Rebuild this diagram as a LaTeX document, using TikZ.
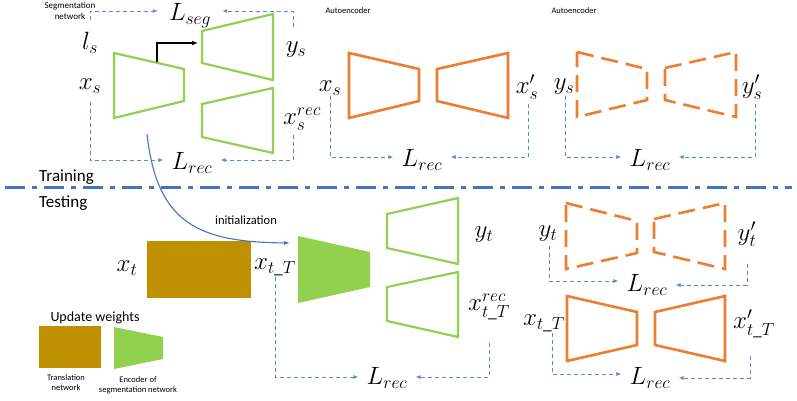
\RequirePackage{fix-cm}
\documentclass[tikz,border=0pt]{standalone}
\usepackage{fontspec}
\setmainfont{Carlito}
\usepackage{amsmath}
\usepackage{xcolor}
\usetikzlibrary{arrows.meta}

\definecolor{segGreen}{HTML}{92D050}
\definecolor{aeOrange}{HTML}{ED7D31}
\definecolor{lossBlue}{HTML}{4472C4}
\definecolor{transBrown}{HTML}{BF9000}

\tikzset{
  mathlbl/.style={font=\fontsize{25}{29}\selectfont, inner sep=1pt},
  lossnode/.style={mathlbl, inner xsep=8pt},
  smalltxt/.style={font=\fontsize{8.5}{10}\selectfont, align=center, inner sep=0pt},
  lossline/.style={draw=lossBlue!85, line width=0.9pt, dash pattern=on 4pt off 3pt,
    -{Latex[length=5pt,width=4pt]}},
  segnet/.style={draw=segGreen, line width=2.2pt, line join=miter},
  aenet/.style={draw=aeOrange, line width=2.6pt, line join=miter},
  aedash/.style={aenet, dash pattern=on 17pt off 8pt},
}

\begin{document}
\begin{tikzpicture}[x=1pt, y=-1pt]
\useasboundingbox (0,0) rectangle (797,400);

% ---- training: segmentation network
\node[smalltxt, font=\fontsize{9}{11}\selectfont] (segname) at (70,11) {Segmentation\\network};
\draw[segnet] (114,53) -- (184,69) -- (184,101) -- (114,118) -- cycle;
\draw[segnet] (202,31) -- (273,14) -- (273,80) -- (202,63) -- cycle;
\draw[segnet] (202,104) -- (273,88) -- (273,153) -- (202,137) -- cycle;
\coordinate (encTop) at (157,62);
\coordinate (decIn) at (198,43);
\draw[line width=1.3pt, -{Latex[length=6pt,width=5pt]}] (encTop) |- (decIn);

\node[mathlbl] (ls) at (90,43) {$l_s$};
\node[mathlbl] (xsA) at (90,86) {$x_s$};
\node[mathlbl] (ysA) at (296,50) {$y_s$};
\node[mathlbl] (xsrec) at (302,119) {$x_s^{rec}$};
\node[lossnode, inner xsep=11pt] (Lseg) at (190,16) {$L_{seg}$};
\node[lossnode] (LrecA) at (192,163) {$L_{rec}$};

\draw[lossline] ([yshift=11pt]ls.north) |- ([yshift=5pt]Lseg.west);
\draw[lossline] ([xshift=-3pt,yshift=14pt]ysA.north) |- ([yshift=5pt]Lseg.east);
\draw[lossline] ([yshift=-8pt]xsA.south) |- ([yshift=3pt]LrecA.west);
\draw[lossline] ([xshift=-9pt,yshift=-3pt]xsrec.south) |- ([yshift=3pt]LrecA.east);

% ---- training: autoencoder on images
\node[smalltxt] (aeA) at (348,11) {Autoencoder};
\draw[aenet] (349,53) -- (419,69) -- (419,101) -- (349,118) -- cycle;
\draw[aenet] (437,69) -- (508,53) -- (508,118) -- (437,101) -- cycle;
\node[mathlbl] (xsB) at (330,88) {$x_s$};
\node[mathlbl] (xsBp) at (527,87) {$x'_s$};
\node[lossnode] (LrecB) at (422,160) {$L_{rec}$};
\draw[lossline] (xsB.south) |- ([yshift=3pt]LrecB.west);
\draw[lossline] ([xshift=1pt,yshift=-3pt]xsBp.south) |- ([yshift=3pt]LrecB.east);

% ---- training: autoencoder on labels
\node[smalltxt] (aeB) at (574,11) {Autoencoder};
\draw[aedash] (577,52) -- (647,69) -- (647,100) -- (577,117) -- cycle;
\draw[aedash] (665,68) -- (736,52) -- (736,117) -- (665,100) -- cycle;
\node[mathlbl] (ysB) at (564,87) {$y_s$};
\node[mathlbl] (ysBp) at (752,87) {$y'_s$};
\node[lossnode] (LrecC) at (650,160) {$L_{rec}$};
\draw[lossline] ([xshift=1pt]ysB.south) |- ([yshift=3pt]LrecC.west);
\draw[lossline] ([xshift=3pt,yshift=-3pt]ysBp.south) |- ([yshift=3pt]LrecC.east);

% ---- separation
\draw[lossBlue, line width=3pt, dash pattern=on 20pt off 7pt on 5pt off 7pt] (5,187) -- (792,187);
\node[anchor=west, font=\fontsize{17}{20}\selectfont, inner sep=0pt] (train) at (39,177) {Training};
\node[anchor=west, font=\fontsize{17}{20}\selectfont, inner sep=0pt] (test) at (39,203) {Testing};

% ---- testing
\node[fill=transBrown, minimum width=104pt, minimum height=57pt, inner sep=0pt] (trans) at (199,269.5) {};
\node[mathlbl] (xt) at (127,268) {$x_t$};
\node[mathlbl] (xtT) at (275,267) {$x_{t\_T}$};
\fill[segGreen] (298,236) -- (370,252) -- (370,287) -- (298,303) -- cycle;
\draw[segnet] (387,214) -- (458,198) -- (458,264) -- (387,248) -- cycle;
\draw[segnet] (387,287) -- (458,272) -- (458,337) -- (387,321) -- cycle;
\node[mathlbl] (yt) at (484,235) {$y_t$};
\node[mathlbl] (xtTrec) at (489,307) {$x_{t\_T}^{rec}$};
\node[lossnode] (LrecD) at (387,378) {$L_{rec}$};
\draw[lossline] (xtT.south) |- ([yshift=1pt]LrecD.west);
\draw[lossline] ([yshift=-22pt]xtTrec.south) |- ([yshift=1pt]LrecD.east);

\coordinate (initStart) at (147,134);
\coordinate (initEnd) at (290,243);
\draw[lossBlue, line width=1.1pt, -{Latex[length=6pt,width=4pt]}]
  (initStart) .. controls (157,225) and (200,242) .. (initEnd);
\node[font=\fontsize{12.5}{14}\selectfont, inner sep=0pt] (init) at (246,220) {initialization};

% ---- testing: autoencoders
\draw[aedash] (566,203) -- (637,221) -- (637,253) -- (566,269) -- cycle;
\draw[aedash] (654,219) -- (725,203) -- (725,269) -- (654,252) -- cycle;
\node[mathlbl] (ytB) at (548,234) {$y_t$};
\node[mathlbl] (ytBp) at (747,234) {$y'_t$};
\node[lossnode] (LrecE) at (647,285) {$L_{rec}$};
\draw[lossline] ([xshift=1pt,yshift=-3pt]ytB.south) |- ([yshift=4pt]LrecE.west);
\draw[lossline] ([yshift=-16pt]ytBp.south) |- (LrecE.east);

\draw[aenet] (567,296) -- (637,312) -- (637,345) -- (567,361) -- cycle;
\draw[aenet] (655,312) -- (725,296) -- (725,361) -- (655,345) -- cycle;
\node[mathlbl] (xtTB) at (544,323) {$x_{t\_T}$};
\node[mathlbl] (xtTBp) at (754,324) {$x'_{t\_T}$};
\node[lossnode] (LrecF) at (650,378) {$L_{rec}$};
\draw[lossline] ([xshift=8pt]xtTB.south) |- ([yshift=4pt]LrecF.west);
\draw[lossline] ([xshift=-4pt,yshift=-17pt]xtTBp.south) |- (LrecF.east);

% ---- legend
\node[font=\fontsize{14}{16}\selectfont, inner sep=0pt] (update) at (95,318) {Update weights};
\node[fill=transBrown, minimum width=62pt, minimum height=42pt, inner sep=0pt] (legtrans) at (70,347) {};
\fill[segGreen] (114,327) -- (163,337) -- (163,359) -- (114,369) -- cycle;
\node[smalltxt] (legtransname) at (66,383) {Translation\\network};
\node[smalltxt] (legencname) at (138,385) {Encoder of\\segmentation network};
\end{tikzpicture}
\end{document}
